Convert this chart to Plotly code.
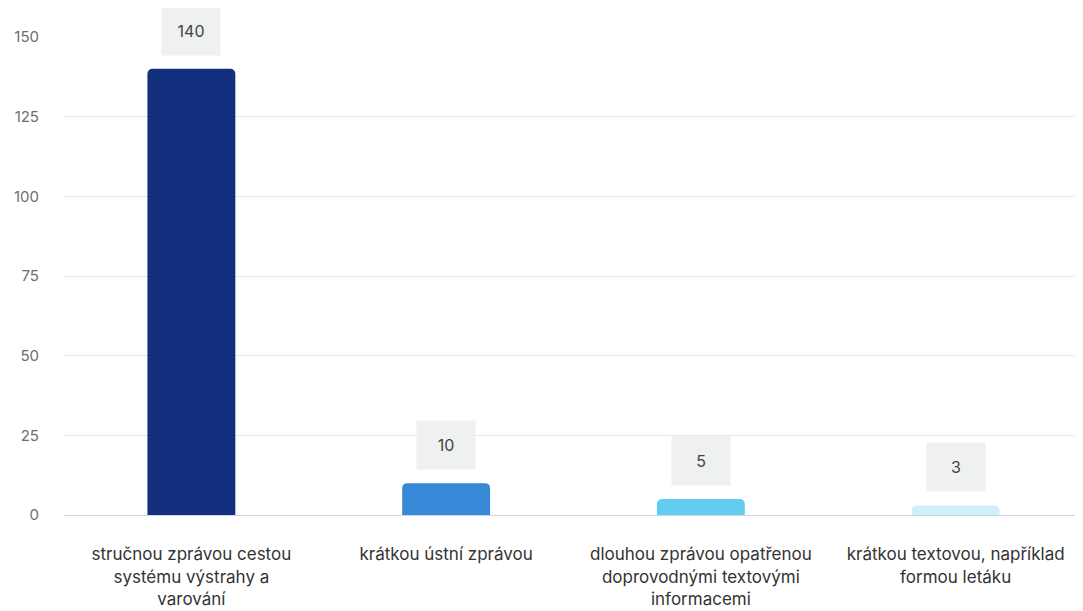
import plotly.graph_objects as go

categories = [
    "stručnou zprávou cestou<br>systému výstrahy a<br>varování",
    "krátkou ústní zprávou",
    "dlouhou zprávou opatřenou<br>doprovodnými textovými<br>informacemi",
    "krátkou textovou, například<br>formou letáku",
]
values = [140, 10, 5, 3]
colors = ["#12307e", "#3888d8", "#62cdf0", "#cdf1f9"]
y_ticks = [0, 25, 50, 75, 100, 125, 150]

fig = go.Figure()
fig.add_trace(go.Bar(
    x=categories, y=values,
    marker=dict(color=colors, cornerradius=5, line=dict(width=0)),
    hoverinfo="skip",
))

for c, v in zip(categories, values):
    fig.add_annotation(
        x=c, y=v, text=str(v), showarrow=False, yshift=38,
        bgcolor="#eff0f0", width=54, height=44, borderpad=2,
        font=dict(family="Inter, Roboto, sans-serif", size=16, color="#444"),
    )

fig.update_layout(
    width=1075, height=603,
    margin=dict(l=56, r=0, t=29, b=96),
    paper_bgcolor="white", plot_bgcolor="white",
    bargap=0.655, showlegend=False,
    font=dict(family="Inter, Roboto, sans-serif", color="#333"),
)
fig.update_yaxes(
    range=[0, 150], tickvals=y_ticks, showgrid=True, gridcolor="#e6e6e6",
    zeroline=False, showline=False, ticks="", ticklabelstandoff=24,
    tickfont=dict(size=15, color="#6e6e6e"),
)
fig.update_xaxes(
    showline=True, linecolor="#ccd6eb", linewidth=1, ticks="",
    ticklabelstandoff=24, tickfont=dict(size=17, color="#333"),
    tickangle=0,
)

fig.write_html("out.html")
